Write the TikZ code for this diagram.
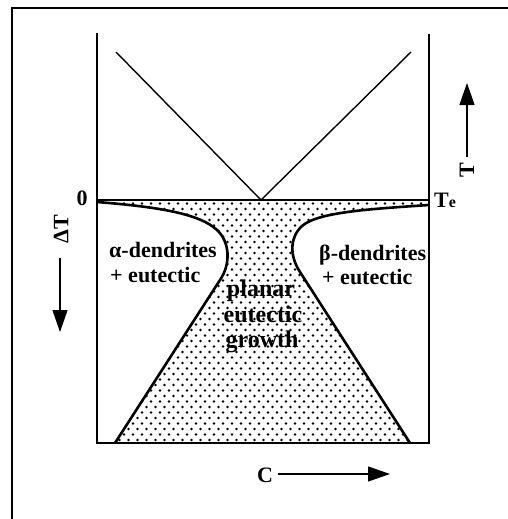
\documentclass[tikz,border=0pt]{standalone}
\usepackage{fontspec}
\setmainfont{Liberation Serif}
\usetikzlibrary{arrows.meta}
\begin{document}
\begin{tikzpicture}[x=1pt,y=-1pt,
  lbl/.style={font=\fontsize{22}{26}\selectfont\bfseries, inner sep=0pt},
  biglbl/.style={font=\fontsize{24}{28}\selectfont\bfseries, inner sep=0pt},
  frameline/.style={line width=2pt},
  mainaxis/.style={line width=2.6pt, line cap=rect},
  thinaxis/.style={line width=1.2pt},
  bound/.style={line width=2.6pt, line join=round},
  liq/.style={line width=1.4pt},
  arr/.style={line width=1.2pt, -{Triangle[length=22pt,width=15pt]}}]
\useasboundingbox (0,0) rectangle (508,519);
% outer frame
\draw[frameline] (12,519) -- (12,8) -- (508,8);
% key points
\coordinate (O) at (97,200);
\coordinate (E) at (429,200);
\coordinate (tl) at (97,34);
\coordinate (tr) at (429,34);
\coordinate (bl) at (97,443);
\coordinate (br) at (429,443);
\coordinate (V) at (261,200);
\coordinate (Vl) at (116,52);
\coordinate (Vr) at (411,52);
% dotted coupled zone
\begin{scope}
\clip (97,200) -- (97,202) .. controls (160,207) and (200,214) .. (217,230)
  .. controls (230,242) and (231,264) .. (220,280) -- (115,443) -- (410,443)
  -- (300,272) .. controls (289,255) and (290,237) .. (302,226)
  .. controls (318,212) and (370,209) .. (429,205) -- (429,200) -- cycle;
\foreach \r in {0,...,44}{
  \pgfmathsetmacro\yy{203.5+5.5*\r}
  \pgfmathsetmacro\off{mod(\r,2)*4.5}
  \foreach \c in {0,...,37}{
    \fill (97+\off+9*\c,\yy) circle (1.4pt);
  }
}
\end{scope}
% lines
\draw[liq] (O) -- (E);
\draw[liq] (Vl) -- (V) -- (Vr);
\draw[mainaxis] (tl) -- (bl) -- (br);
\draw[thinaxis] (tr) -- (br);
% boundaries
\draw[bound] (97,202) .. controls (160,207) and (200,214) .. (217,230)
  .. controls (230,242) and (231,264) .. (220,280) -- (115,443);
\draw[bound] (429,205) .. controls (370,209) and (318,212) .. (302,226)
  .. controls (290,237) and (289,255) .. (300,272) -- (410,443);
% labels
\node[lbl, anchor=base] (zero) at (82,205) {0};
\node[lbl, anchor=base west] (Te) at (434,207) {T\fontsize{16}{18}\selectfont e};
\node[lbl, rotate=90] (dT) at (61,229) {ΔT};
\node[lbl, rotate=90] (Tlab) at (467,170) {T};
\node[lbl, anchor=base] (C) at (265,482) {C};
\node[lbl, anchor=base west] (a1) at (109,257) {α-dendrites};
\node[lbl, anchor=base west] (a2) at (110,282) {+ eutectic};
\node[lbl, anchor=base west] (b1) at (319,260) {β-dendrites};
\node[lbl, anchor=base west] (b2) at (322,284) {+ eutectic};
\node[biglbl, anchor=base] (p1) at (261,296) {planar};
\node[biglbl, anchor=base] (p2) at (263,322) {eutectic};
\node[biglbl, anchor=base] (p3) at (262,347) {growth};
% arrows
\coordinate (dTa) at (60,258);
\coordinate (dTb) at (60,332);
\draw[arr] (dTa) -- (dTb);
\coordinate (Ta) at (467,157);
\coordinate (Tb) at (467,83);
\draw[arr] (Ta) -- (Tb);
\coordinate (Ca) at (278,474);
\coordinate (Cb) at (390,474);
\draw[arr] (Ca) -- (Cb);
\end{tikzpicture}
\end{document}
